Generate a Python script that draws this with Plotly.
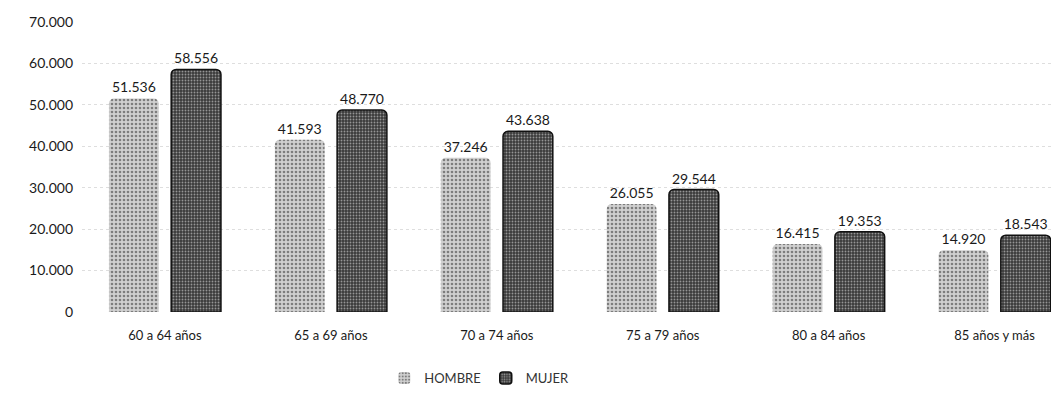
import plotly.graph_objects as go

categories = ["60 a 64 años", "65 a 69 años", "70 a 74 años", "75 a 79 años", "80 a 84 años", "85 años y más"]
hombre = [51536, 41593, 37246, 26055, 16415, 14920]
mujer = [58556, 48770, 43638, 29544, 19353, 18543]
y_ticks = [0, 10000, 20000, 30000, 40000, 50000, 60000, 70000]

font_family = "Lato, 'DejaVu Sans', sans-serif"

fig = go.Figure()
fig.add_trace(go.Bar(
    name="HOMBRE", x=categories, y=hombre,
    marker=dict(color="#d0d0d0", line=dict(width=0),
                pattern=dict(shape=".", fgcolor="#2a2a2a", size=4, solidity=0.35)),
    texttemplate="%{y:,}", textposition="outside", cliponaxis=False,
    textfont=dict(size=14, color="#1a1a1a"),
))
fig.add_trace(go.Bar(
    name="MUJER", x=categories, y=mujer,
    marker=dict(color="#3a3a3a", line=dict(width=1.5, color="#111"),
                pattern=dict(shape=".", fgcolor="#f0f0f0", size=3, solidity=0.3)),
    texttemplate="%{y:,}", textposition="outside", cliponaxis=False,
    textfont=dict(size=14, color="#1a1a1a"),
))

fig.update_layout(
    width=1043, height=392,
    margin=dict(l=74, r=0, t=14, b=88),
    paper_bgcolor="white", plot_bgcolor="white",
    separators=",.",
    barmode="group", bargap=0.25, bargroupgap=0.2, barcornerradius=5,
    font=dict(family=font_family, size=13, color="#1a1a1a"),
    legend=dict(orientation="h", x=0.41, xanchor="center", y=-0.228, yanchor="middle",
                font=dict(size=13, color="#333"), itemwidth=30, tracegroupgap=20),
    showlegend=True,
)
fig.update_xaxes(range=[-0.5, 5.34], showgrid=False, showline=False, ticks="",
                 tickfont=dict(size=13), ticklabelstandoff=14)
fig.update_yaxes(range=[0, 70000], tickvals=y_ticks, tickformat=",",
                 showgrid=True, gridcolor="#dedede", griddash="dot", gridwidth=1,
                 zeroline=False, showline=False, ticks="", ticklabelstandoff=8,
                 tickfont=dict(size=14))

fig.write_html("out.html")
